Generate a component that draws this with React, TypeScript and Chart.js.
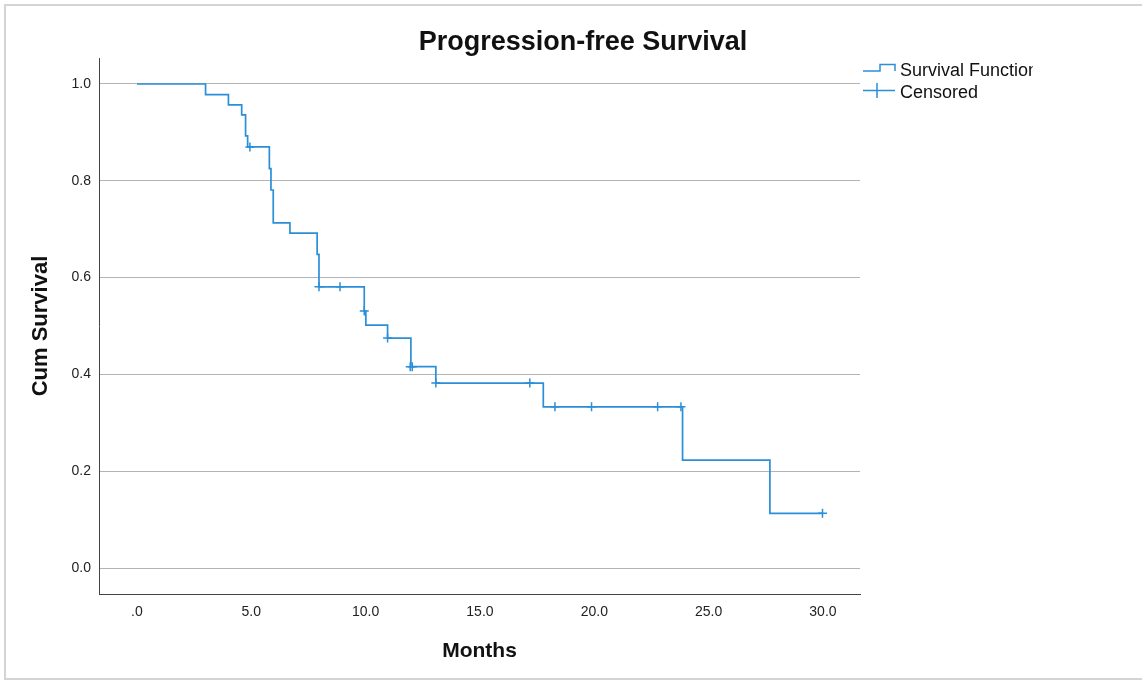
import React, { useEffect, useRef } from "react";
import { Chart, registerables } from "chart.js";

Chart.register(...registerables);

// Kaplan-Meier step points (time in months, cumulative survival after the step)
const eventTimes = [0, 3.0, 4.0, 4.58, 4.75, 4.84, 5.79, 5.86, 5.96, 6.69, 7.88, 7.96, 9.94, 10.01, 10.96, 11.98, 13.07, 17.77, 23.86, 27.68, 30.0];
const survivalValues = [1.0, 0.978, 0.957, 0.936, 0.893, 0.870, 0.825, 0.781, 0.713, 0.692, 0.648, 0.581, 0.531, 0.502, 0.475, 0.416, 0.382, 0.333, 0.223, 0.113, 0.113];

// Censored observations
const censorTimes = [4.94, 7.96, 8.88, 9.94, 10.96, 11.95, 12.04, 13.07, 17.18, 18.28, 19.88, 22.77, 23.79, 29.98];
const censorValues = [0.870, 0.581, 0.581, 0.531, 0.475, 0.416, 0.416, 0.382, 0.382, 0.333, 0.333, 0.333, 0.333, 0.113];

const xTickValues = [0, 5, 10, 15, 20, 25, 30];
const xTickLabels = [".0", "5.0", "10.0", "15.0", "20.0", "25.0", "30.0"];
const yTickValues = [0, 0.2, 0.4, 0.6, 0.8, 1.0];
const yTickLabels = ["0.0", "0.2", "0.4", "0.6", "0.8", "1.0"];

const chartTitle = "Progression-free Survival";
const xAxisTitle = "Months";
const yAxisTitle = "Cum Survival";
const legendLabels = ["Survival Function", "Censored"];

const LINE_COLOR = "#2a8fd8";
const FONT = "'Liberation Sans', Arial, sans-serif";

const overlayPlugin = {
  id: "overlay",
  afterDraw(chart: any) {
    const ctx = chart.ctx;
    ctx.save();
    // Title
    ctx.fillStyle = "#111";
    ctx.font = `bold 27px ${FONT}`;
    ctx.textAlign = "center";
    ctx.textBaseline = "middle";
    ctx.fillText(chartTitle, 583, 43);

    // Legend
    ctx.strokeStyle = LINE_COLOR;
    ctx.lineWidth = 1.5;
    ctx.beginPath();
    ctx.moveTo(863, 71);
    ctx.lineTo(880, 71);
    ctx.lineTo(880, 64.5);
    ctx.lineTo(895, 64.5);
    ctx.lineTo(895, 71);
    ctx.stroke();

    ctx.beginPath();
    ctx.moveTo(863, 90.5);
    ctx.lineTo(895, 90.5);
    ctx.moveTo(877, 83);
    ctx.lineTo(877, 98);
    ctx.stroke();

    ctx.fillStyle = "#111";
    ctx.font = `18px ${FONT}`;
    ctx.textAlign = "left";
    ctx.save();
    ctx.beginPath();
    ctx.rect(895, 55, 1033 - 895, 30);
    ctx.clip();
    ctx.fillText(legendLabels[0], 900, 71);
    ctx.restore();
    ctx.fillText(legendLabels[1], 900, 93);
    ctx.restore();
  },
};

export default function App() {
  const canvasRef = useRef<HTMLCanvasElement | null>(null);

  useEffect(() => {
    const canvas = canvasRef.current;
    if (!canvas) return;
    const kmData = eventTimes.map((t, i) => ({ x: t, y: survivalValues[i] }));
    const censorData = censorTimes.map((t, i) => ({ x: t, y: censorValues[i] }));

    const chart = new Chart(canvas, {
      type: "line",
      data: {
        datasets: [
          {
            label: legendLabels[0],
            data: kmData,
            stepped: true,
            borderColor: LINE_COLOR,
            borderWidth: 1.7,
            pointRadius: 0,
            fill: false,
            order: 2,
          },
          {
            label: legendLabels[1],
            data: censorData,
            showLine: false,
            pointStyle: "cross",
            pointRadius: 4.5,
            borderColor: LINE_COLOR,
            backgroundColor: LINE_COLOR,
            pointBorderWidth: 1.5,
            order: 1,
          } as any,
        ],
      },
      options: {
        animation: false,
        responsive: false,
        devicePixelRatio: 1,
        layout: { padding: { left: 0, top: 58, right: 282, bottom: 0 } },
        plugins: {
          legend: { display: false },
          title: { display: false },
          tooltip: { enabled: false },
        },
        scales: {
          x: {
            type: "linear",
            min: -1.66,
            max: 31.62,
            afterBuildTicks: (scale: any) => {
              scale.ticks = xTickValues.map((v) => ({ value: v }));
            },
            afterFit: (scale: any) => {
              scale.height = 87;
            },
            ticks: {
              autoSkip: false,
              maxRotation: 0,
              padding: 10,
              color: "#222",
              font: { family: FONT, size: 14 },
              callback: (v: any) => {
                const i = xTickValues.indexOf(Number(v));
                return i >= 0 ? xTickLabels[i] : "";
              },
            },
            grid: { display: false, drawTicks: false },
            border: { display: true, color: "#444", width: 1 },
            title: {
              display: true,
              text: xAxisTitle,
              color: "#111",
              font: { family: FONT, size: 21, weight: "bold" },
              padding: { top: 0, bottom: 17 },
            },
          },
          y: {
            type: "linear",
            min: -0.0537,
            max: 1.0537,
            afterBuildTicks: (scale: any) => {
              scale.ticks = yTickValues.map((v) => ({ value: v }));
            },
            afterFit: (scale: any) => {
              scale.width = 99;
            },
            ticks: {
              autoSkip: false,
              padding: 8,
              color: "#222",
              font: { family: FONT, size: 14 },
              callback: (v: any) => {
                const i = yTickValues.findIndex((t) => Math.abs(t - Number(v)) < 1e-6);
                return i >= 0 ? yTickLabels[i] : "";
              },
            },
            grid: { display: true, drawTicks: false, color: "#b4b4b4", lineWidth: 1 },
            border: { display: true, color: "#444", width: 1 },
            title: {
              display: true,
              text: yAxisTitle,
              color: "#111",
              font: { family: FONT, size: 22, weight: "bold" },
              padding: { top: 28, bottom: 0 },
            },
          },
        },
      },
      plugins: [overlayPlugin],
    });
    return () => chart.destroy();
  }, []);

  return (
    <div
      style={{
        position: "fixed",
        left: 0,
        top: 0,
        width: 1142,
        height: 681,
        overflow: "hidden",
        background: "#fff",
      }}
    >
      <canvas ref={canvasRef} width={1142} height={681} style={{ display: "block", width: 1142, height: 681 }} />
      <div
        style={{
          position: "absolute",
          left: 4,
          top: 4,
          width: 1160,
          height: 676,
          boxSizing: "border-box",
          border: "2px solid #d4d4d4",
          pointerEvents: "none",
        }}
      />
    </div>
  );
}
